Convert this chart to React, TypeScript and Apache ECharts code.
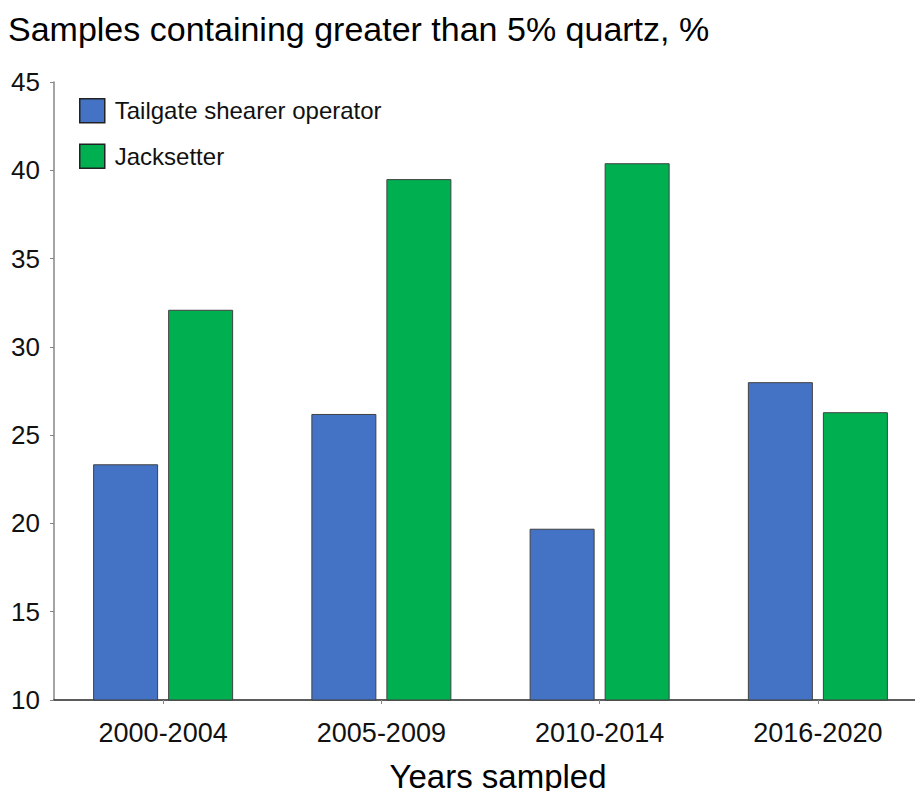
import React, { useEffect, useRef } from "react";
import * as echarts from "echarts";

const categories = ["2000-2004", "2005-2009", "2010-2014", "2016-2020"];
const tailgateShearer = [23.35, 26.2, 19.7, 28.0];
const jacksetter = [32.1, 39.5, 40.4, 26.3];
const yTicks = { min: 10, max: 45, interval: 5 };

const FONT = "'Liberation Sans', Arial, sans-serif";

export default function App() {
  const ref = useRef<HTMLDivElement>(null);
  useEffect(() => {
    if (!ref.current) return;
    const chart = echarts.init(ref.current, undefined, { renderer: "svg" });
    chart.setOption({
      animation: false,
      backgroundColor: "#ffffff",
      textStyle: { fontFamily: FONT },
      grid: {
        left: 54,
        top: 82,
        width: 873,
        height: 618,
        containLabel: false,
        outerBoundsMode: "none",
      },
      legend: {
        orient: "vertical",
        left: 79,
        top: 98,
        itemWidth: 25,
        itemHeight: 24,
        itemGap: 20,
        icon: "rect",
        padding: 0,
        textStyle: { fontSize: 24, color: "#111", fontFamily: FONT, padding: [0, 0, 0, 5] },
        itemStyle: { borderColor: "#222", borderWidth: 1.5 },
        data: ["Tailgate shearer operator", "Jacksetter"],
      },
      xAxis: {
        type: "category",
        data: categories,
        axisLine: { lineStyle: { color: "#262626", width: 1.5 } },
        axisTick: { show: true, alignWithLabel: true, length: 4, lineStyle: { color: "#888" } },
        axisLabel: { fontSize: 27, color: "#111", margin: 19, fontFamily: FONT },
        splitLine: { show: false },
      },
      yAxis: {
        type: "value",
        min: yTicks.min,
        max: yTicks.max,
        interval: yTicks.interval,
        axisLine: { show: true, lineStyle: { color: "#868686", width: 1.5 } },
        axisTick: { show: true, length: 4, lineStyle: { color: "#868686" } },
        axisLabel: { fontSize: 26, color: "#111", margin: 14, fontFamily: FONT },
        splitLine: { show: false },
      },
      series: [
        {
          name: "Tailgate shearer operator",
          type: "bar",
          data: tailgateShearer,
          barWidth: 65,
          barGap: "15.4%",
          itemStyle: { color: "#4472C4", borderColor: "#404040", borderWidth: 1 },
        },
        {
          name: "Jacksetter",
          type: "bar",
          data: jacksetter,
          barWidth: 65,
          barGap: "15.4%",
          itemStyle: { color: "#00B050", borderColor: "#404040", borderWidth: 1 },
        },
      ],
      graphic: [
        {
          type: "text",
          left: 8,
          top: 12,
          style: {
            text: "Samples containing greater than 5% quartz, %",
            fontSize: 34,
            fontFamily: FONT,
            fill: "#000",
          },
        },
        {
          type: "text",
          x: 498,
          y: 776,
          style: {
            text: "Years sampled",
            fontSize: 33,
            fontFamily: FONT,
            fill: "#000",
            align: "center",
            verticalAlign: "middle",
          },
        },
      ],
    });
    return () => chart.dispose();
  }, []);
  return (
    <div
      ref={ref}
      style={{ position: "fixed", left: 0, top: 0, width: 915, height: 791 }}
    />
  );
}
